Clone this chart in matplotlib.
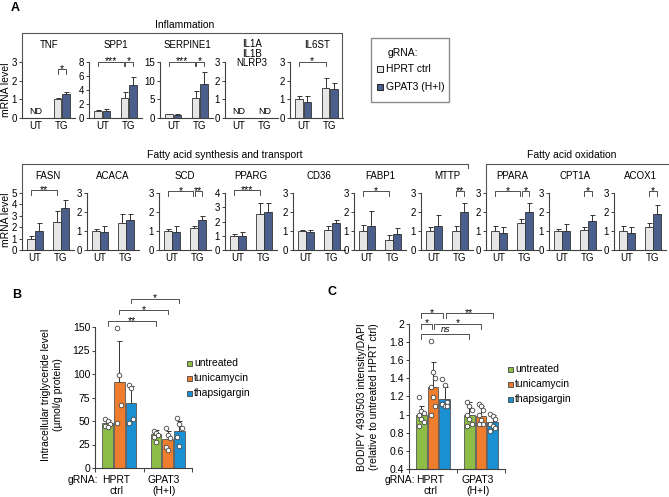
import numpy as np
import matplotlib
matplotlib.use("Agg")
import matplotlib.pyplot as plt
from matplotlib.lines import Line2D
from matplotlib.patches import Rectangle
from matplotlib.ticker import FuncFormatter

plt.rcParams["font.family"] = ["Liberation Sans", "DejaVu Sans"]
plt.rcParams["font.size"] = 7

nan = np.nan

# ── panel A: mRNA levels (UT, TG) for HPRT ctrl and GPAT3 (H+I) ─────────────
genes_top = ["TNF", "SPP1", "SERPINE1", "IL1A\nIL1B\nNLRP3", "IL6ST"]
ymax_top = [3, 8, 15, 3, 3]
ystep_top = [1, 2, 5, 1, 1]
ctrl_top = [[nan, 1.0], [1.0, 2.85], [1.0, 5.3], [nan, nan], [1.0, 1.62]]
gpat_top = [[nan, 1.27], [1.0, 4.7], [0.85, 9.0], [nan, nan], [0.87, 1.53]]
ctrl_err_top = [[nan, 0.08], [0.15, 0.85], [0.2, 1.8], [nan, nan], [0.16, 0.5]]
gpat_err_top = [[nan, 0.1], [0.35, 1.2], [0.2, 3.2], [nan, nan], [0.3, 0.35]]

genes_bot = ["FASN", "ACACA", "SCD", "PPARG", "CD36",
             "FABP1", "MTTP", "PPARA", "CPT1A", "ACOX1"]
ymax_bot = [5, 3, 3, 4, 3, 3, 3, 3, 3, 3]
ctrl_bot = [[1.0, 2.45], [1.0, 1.4], [1.0, 1.18], [1.0, 2.5], [1.0, 1.03],
            [1.0, 0.5], [1.0, 1.0], [1.0, 1.4], [1.0, 1.05], [1.0, 1.22]]
gpat_bot = [[1.65, 3.65], [0.95, 1.6], [0.95, 1.6], [0.97, 2.65], [0.96, 1.4],
            [1.27, 0.82], [1.25, 2.0], [0.9, 2.02], [1.02, 1.52], [0.9, 1.92]]
ctrl_err_bot = [[0.22, 1.0], [0.12, 0.47], [0.1, 0.1], [0.15, 0.8], [0.04, 0.25],
                [0.33, 0.27], [0.22, 0.27], [0.25, 0.25], [0.1, 0.17], [0.27, 0.22]]
gpat_err_bot = [[0.7, 0.75], [0.3, 0.32], [0.3, 0.18], [0.3, 0.62], [0.1, 0.2],
                [0.78, 0.33], [0.6, 0.45], [0.3, 0.45], [0.37, 0.3], [0.3, 0.45]]

# comparisons: (gene, bar a, bar b, label, bracket height); bars 0=UT ctrl,
# 1=UT GPAT3, 2=TG ctrl, 3=TG GPAT3
sig_a = [
    ("TNF", 2, 3, "*", 2.6),
    ("SPP1", 0, 2, "***", 8.0), ("SPP1", 2, 3, "*", 8.0),
    ("SERPINE1", 0, 2, "***", 15.0), ("SERPINE1", 2, 3, "*", 15.0),
    ("IL6ST", 0, 2, "*", 3.0),
    ("FASN", 0, 2, "**", 5.25),
    ("SCD", 0, 2, "*", 3.1), ("SCD", 2, 3, "**", 3.1),
    ("PPARG", 0, 2, "***", 4.2),
    ("FABP1", 0, 2, "*", 3.1),
    ("MTTP", 2, 3, "**", 3.1),
    ("PPARA", 0, 2, "*", 3.1), ("PPARA", 2, 3, "*", 3.1),
    ("CPT1A", 2, 3, "*", 3.1),
    ("ACOX1", 2, 3, "*", 3.1),
]

# ── panels B and C ──────────────────────────────────────────────────────────
groups = ["HPRT\nctrl", "GPAT3\n(H+I)"]
treatments = ["untreated", "tunicamycin", "thapsigargin"]

tg_mean = [[48, 36], [91, 31], [69, 39]]          # per treatment: HPRT, GPAT3
tg_err = [[3, 4], [44, 8], [18, 11]]
tg_points = [
    [[52, 50, 47, 45, 44], [39, 37, 35, 33, 28]],
    [[149, 99, 67, 48], [43, 35, 32, 22, 19]],
    [[88, 85, 52, 48], [53, 47, 43, 33, 23]],
]
sig_b = [("**", 0, 0, 156), ("*", 1, 1, 168), ("*", 2, 2, 180)]

bod_mean = [[1.0, 1.0], [1.31, 0.98], [1.17, 0.92]]
bod_err = [[0.09, 0.14], [0.27, 0.12], [0.13, 0.08]]
bod_points = [
    [[1.19, 1.04, 1.02, 1.0, 0.95, 0.92, 0.88], [1.14, 1.1, 1.05, 1.0, 0.95, 0.9, 0.87]],
    [[1.81, 1.47, 1.4, 1.3, 1.2, 1.1, 1.0], [1.12, 1.1, 1.05, 1.0, 0.94, 0.9, 0.9]],
    [[1.39, 1.33, 1.14, 1.12, 1.1, 1.1], [1.01, 0.99, 0.95, 0.9, 0.87, 0.85, 0.82]],
]
# (label, (group, treatment) a, (group, treatment) b, height)
sig_c = [("*", (0, 0), (0, 2), 2.12), ("**", (0, 2), (1, 2), 2.12),
         ("*", (0, 0), (0, 1), 2.0), ("*", (0, 1), (1, 1), 2.0),
         ("ns", (0, 0), (1, 0), 1.89)]

# ── style ───────────────────────────────────────────────────────────────────
W, H = 669, 497
LIGHT, DARK = "#e6e6e6", "#4a5f8c"
TREAT_COLORS = ["#8dbd47", "#ef7d2e", "#1a90d2"]
AX_COL = "#404040"
LINE_COL = "#555555"

fig = plt.figure(figsize=(W / 100, H / 100), dpi=100)


def fx(x):
    return x / W


def fy(y):
    return 1 - y / H


def add_ax(left, top, width, height):
    return fig.add_axes([fx(left), fy(top + height), width / W, height / H])


def fig_line(xs, ys, color=LINE_COL, lw=0.8):
    fig.add_artist(Line2D([fx(x) for x in xs], [fy(y) for y in ys],
                          color=color, lw=lw, transform=fig.transFigure))


def style_axis(ax, fs=7):
    for s in ["top", "right"]:
        ax.spines[s].set_visible(False)
    for s in ["left", "bottom"]:
        ax.spines[s].set_color(AX_COL)
        ax.spines[s].set_linewidth(0.8)
    ax.tick_params(axis="y", length=2.5, width=0.7, pad=1, color=AX_COL, labelsize=fs)
    ax.tick_params(axis="x", length=0, pad=2, labelsize=fs)


def bracket(ax, x1, x2, y, drop, label, italic=False):
    ax.plot([x1, x1, x2, x2], [y - drop, y, y, y - drop], color="#333333",
            lw=0.6, clip_on=False)
    ax.annotate(label, ((x1 + x2) / 2, y), xytext=(0, 1.2 if italic else -1.8),
                textcoords="offset points", ha="center", va="baseline",
                fontsize=6.5 if italic else 7.5,
                style="italic" if italic else "normal", annotation_clip=False)


BAR_OFF, BAR_W = 0.16, 0.29


def gene_panel(ax, ymax, step, ctrl, gpat, cerr, gerr):
    x = np.arange(2)
    for vals, errs, col, sgn in [(ctrl, cerr, LIGHT, -1), (gpat, gerr, DARK, 1)]:
        vals = np.array(vals, float)
        errs = np.array(errs, float)
        ok = ~np.isnan(vals)
        ax.bar(x[ok] + sgn * BAR_OFF, vals[ok], width=BAR_W, color=col,
               edgecolor="#333333", linewidth=0.6, zorder=2)
        ax.errorbar(x[ok] + sgn * BAR_OFF, vals[ok],
                    yerr=[np.zeros(ok.sum()), errs[ok]], fmt="none",
                    ecolor="#333333", elinewidth=0.7, capsize=1.8, capthick=0.7,
                    zorder=1)
    for i in range(2):
        if np.isnan(ctrl[i]) and np.isnan(gpat[i]):
            ax.text(i, ymax * 0.03, "ND", ha="center", va="bottom", fontsize=6.5)
    ax.set_xlim(-0.5, 1.5)
    ax.set_ylim(0, ymax)
    ax.set_yticks(np.arange(0, ymax + 0.01, step))
    ax.set_xticks([0, 1], ["UT", "TG"])
    style_axis(ax)


bar_x = [-BAR_OFF, BAR_OFF, 1 - BAR_OFF, 1 + BAR_OFF]
axes_a = {}

# top row
top_left = [22, 89, 160, 225, 290]
for i, g in enumerate(genes_top):
    ax = add_ax(top_left[i], 62, 53, 56)
    gene_panel(ax, ymax_top[i], ystep_top[i], ctrl_top[i], gpat_top[i],
               ctrl_err_top[i], gpat_err_top[i])
    if "\n" in g:
        fig.text(fx(top_left[i] + 27), fy(39), g, ha="center", va="top",
                 fontsize=7, linespacing=0.95)
    else:
        fig.text(fx(top_left[i] + 27), fy(45), g, ha="center", va="center", fontsize=7)
    axes_a[g] = ax

# bottom row
bot_left = [22, 87, 159, 225, 293, 354, 421, 486, 549, 614]
for i, g in enumerate(genes_bot):
    ax = add_ax(bot_left[i], 193, 52, 57)
    gene_panel(ax, ymax_bot[i], 1, ctrl_bot[i], gpat_bot[i],
               ctrl_err_bot[i], gpat_err_bot[i])
    fig.text(fx(bot_left[i] + 26), fy(176), g, ha="center", va="center", fontsize=7)
    axes_a[g] = ax

for g, a, b, lab, y in sig_a:
    ax = axes_a[g]
    ymax = ax.get_ylim()[1]
    same = [s for s in sig_a if s[0] == g]
    x1, x2 = bar_x[a], bar_x[b]
    if any(s[2] == a for s in same):
        x1 += 0.03
    if any(s[1] == b for s in same):
        x2 -= 0.03
    bracket(ax, x1, x2, y, ymax * 0.08, lab)

fig.text(fx(6), fy(90), "mRNA level", rotation=90, ha="center", va="center", fontsize=7.5)
fig.text(fx(6), fy(220), "mRNA level", rotation=90, ha="center", va="center", fontsize=7.5)

# group frames
fig_line([22, 22, 342, 342], [62, 33, 33, 118])
fig.text(fx(185), fy(25), "Inflammation", ha="center", va="center", fontsize=7.5)
fig_line([22, 22, 468, 468], [193, 164, 164, 168])
fig.text(fx(225), fy(155), "Fatty acid synthesis and transport", ha="center",
         va="center", fontsize=7.5)
fig_line([486, 486, 669], [193, 164, 164])
fig.text(fx(572), fy(155), "Fatty acid oxidation", ha="center", va="center", fontsize=7.5)

# legend A
fig.add_artist(Rectangle((fx(371), fy(102)), (449 - 371) / W, 64 / H,
                         transform=fig.transFigure, facecolor="white",
                         edgecolor="#8c8c8c", lw=1.0))
fig.text(fx(388), fy(53), "gRNA:", ha="left", va="center", fontsize=7.5)
for yy, col, lab in [(69, LIGHT, "HPRT ctrl"), (87, DARK, "GPAT3 (H+I)")]:
    fig.add_artist(Rectangle((fx(377), fy(yy + 3)), 6 / W, 6 / H,
                             transform=fig.transFigure, facecolor=col,
                             edgecolor="#222222", lw=0.7))
    fig.text(fx(386), fy(yy), lab, ha="left", va="center", fontsize=7.5)

# ── panels B / C ────────────────────────────────────────────────────────────
T_OFF = [-0.24, 0.0, 0.24]
T_W = 0.22


def lipid_panel(ax, means, errs, points):
    x = np.arange(2)
    for t in range(3):
        xs = x + T_OFF[t]
        ax.bar(xs, means[t], width=T_W, color=TREAT_COLORS[t],
               edgecolor="#555555", linewidth=0.6, zorder=2)
        ax.errorbar(xs, means[t], yerr=[np.zeros(2), errs[t]], fmt="none",
                    ecolor="#333333", elinewidth=0.7, capsize=1.8, capthick=0.7,
                    zorder=1)
        for gi in range(2):
            pts = points[t][gi]
            jit = [((k % 3) - 1) * 0.045 for k in range(len(pts))]
            ax.plot(xs[gi] + np.array(jit), pts, "o", ms=3.3, mfc="white",
                    mec="#444444", mew=0.6, zorder=3, clip_on=False)
    ax.set_xlim(-0.5, 1.5)
    ax.set_xticks([0, 1], ["", ""])
    ax.set_xticks([-0.5, 0.5, 1.5], minor=True)
    ax.tick_params(axis="x", which="minor", length=3, width=0.7, color=AX_COL)
    style_axis(ax, fs=7.5)


def treat_legend(x, y0):
    for k, lab in enumerate(treatments):
        yy = y0 + 15 * k
        fig.add_artist(Rectangle((fx(x), fy(yy + 2.5)), 5 / W, 5 / H,
                                 transform=fig.transFigure,
                                 facecolor=TREAT_COLORS[k], edgecolor="#444444", lw=0.6))
        fig.text(fx(x + 7), fy(yy), lab, ha="left", va="center", fontsize=7.5)


def group_labels(left, gx):
    for i, lab in enumerate(groups):
        fig.text(fx(left + 24 + 48 * i), fy(485.5), lab, ha="center", va="center",
                 fontsize=7.5, linespacing=1.05)
    fig.text(fx(gx), fy(480), "gRNA:", ha="center", va="center", fontsize=7.5)


# B
axb = add_ax(95, 327, 97, 141)
lipid_panel(axb, tg_mean, tg_err, tg_points)
axb.set_ylim(0, 150)
axb.set_yticks(np.arange(0, 151, 25))
group_labels(92, 83)
for lab, t1, t2, y in sig_b:
    bracket(axb, T_OFF[t1], 1 + T_OFF[t2], y, 4.5, lab)
fig.text(fx(52), fy(395), "Intracellular triglyceride level\n(µmol/g protein)",
         rotation=90, ha="center", va="center", fontsize=7.5, linespacing=1.2)
treat_legend(187, 363)
fig.text(fx(17), fy(295), "B", fontsize=9, fontweight="bold", ha="center", va="center")

# C
axc = add_ax(409, 324, 96, 145)
lipid_panel(axc, bod_mean, bod_err, bod_points)
axc.set_ylim(0.4, 2.0)
axc.set_yticks(np.arange(0.4, 2.01, 0.2))
axc.yaxis.set_major_formatter(FuncFormatter(lambda v, p: f"{v:g}"))
group_labels(406, 400)
for lab, (g1, t1), (g2, t2), y in sig_c:
    x1, x2 = g1 + T_OFF[t1], g2 + T_OFF[t2]
    if lab != "ns" and t1 != 0:
        x1 += 0.03
    if (g2, t2) in [(0, 2), (0, 1)]:
        x2 -= 0.03
    bracket(axc, x1, x2, y, 0.05, lab, italic=(lab == "ns"))
fig.text(fx(368), fy(397),
         "BODIPY 493/503 intensity/DAPI\n(relative to untreated HPRT ctrl)",
         rotation=90, ha="center", va="center", fontsize=7.5, linespacing=1.2)
treat_legend(508, 369)
fig.text(fx(332), fy(292), "C", fontsize=9, fontweight="bold", ha="center", va="center")

fig.text(fx(15), fy(8), "A", fontsize=9, fontweight="bold", ha="center", va="center")

fig.savefig("out.png", dpi=100)
